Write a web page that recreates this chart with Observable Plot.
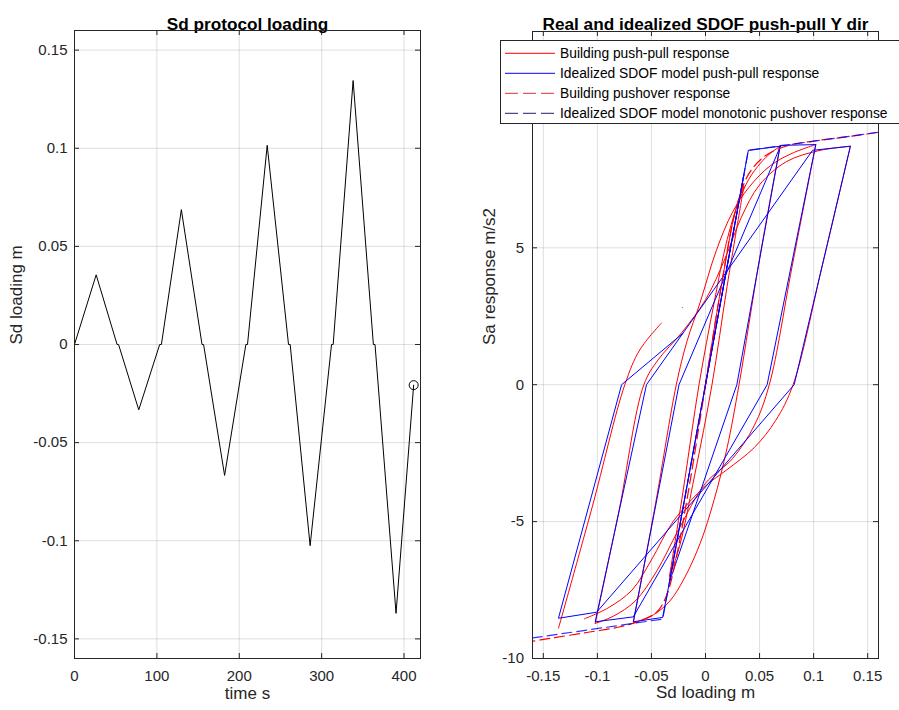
<!DOCTYPE html>
<html>
<head>
<meta charset="utf-8">
<script src="https://cdn.jsdelivr.net/npm/d3@7"></script>
<script src="https://cdn.jsdelivr.net/npm/@observablehq/plot@0.6"></script>
<style>
  body { margin: 0; background: #fff; }
  #wrap { position: relative; width: 899px; height: 710px; overflow: hidden; background: #fff;
          font-family: "Liberation Sans", Arial, sans-serif; }
  .panel { position: absolute; top: 0; }
  #legend { position: absolute; left: 500px; top: 40px; }
</style>
</head>
<body>
<div id="wrap"></div>
<script>
// ---------------- Left panel: Sd protocol loading ----------------
const protoTitle = "Sd protocol loading";
const protoXLabel = "time s";
const protoYLabel = "Sd loading m";
const protoTime = [0, 26.3, 51.7, 53.5, 78, 103.4, 105.5, 129.7, 154.8, 156.7, 182.2, 208, 210,
                   233.9, 259.8, 261.8, 286, 312, 314, 338.2, 362.8, 364.8, 390.3, 411.7];
const protoSd   = [0, 0.0355, 0, 0, -0.0333, 0, 0, 0.0687, 0, 0, -0.0667, 0, 0,
                   0.1015, 0, 0, -0.1025, 0, 0, 0.1345, 0, 0, -0.137, -0.0207];
const protoXTicks = [0, 100, 200, 300, 400];
const protoYTicks = [-0.15, -0.1, -0.05, 0, 0.05, 0.1, 0.15];

// ---------------- Right panel: push-pull ----------------
const ppTitle = "Real and idealized SDOF push-pull Y dir";
const ppXLabel = "Sd loading m";
const ppYLabel = "Sa response m/s2";
const ppXTicks = [-0.15, -0.1, -0.05, 0, 0.05, 0.1, 0.15];
const ppYTicks = [-10, -5, 0, 5, 10];

// Building push-pull response (smooth branches, one per half cycle)
const bldSeg = [0,0,0,0,
  1,1,1,1,1,1,
  2,2,2,2,2,2,2,2,2,2,
  3,3,3,3,3,3,3,3,3,3,
  4,4,4,4,4,4,4,4,4,4,4,
  5,5,5,5,5,5,5,5,5,5,5,
  6,6,6,6,6,6,6,6,6,6,6,6,
  7,7,7,7,7,7,7,7,7,7,7,7,
  8,8,8,8,8,8];
const bldSd = [0, 0.015, 0.028, 0.0355,
  0.0355, 0.02, 0.006, -0.01, -0.024, -0.0333,
  -0.0333, -0.02, -0.006, 0.008, 0.02, 0.03, 0.04, 0.051, 0.06, 0.069,
  0.069, 0.05, 0.031, 0.02, 0.008, -0.005, -0.02, -0.033, -0.048, -0.0668,
  -0.0668, -0.046, -0.027, -0.017, -0.005, 0.01, 0.025, 0.04, 0.06, 0.08, 0.102,
  0.102, 0.08, 0.059, 0.045, 0.025, 0.0, -0.025, -0.045, -0.065, -0.085, -0.102,
  -0.102, -0.08, -0.057, -0.044, -0.022, 0.0, 0.018, 0.033, 0.05, 0.075, 0.105, 0.134,
  0.134, 0.108, 0.081, 0.065, 0.045, 0.02, 0.0, -0.03, -0.05, -0.068, -0.09, -0.112, -0.136,
  -0.136, -0.105, -0.0746, -0.0608, -0.0408, -0.0215];
const bldSa = [0, 3.7, 6.4, 7.25,
  7.25, 3.6, 0, -3.3, -5.9, -7.0,
  -7.0, -3.7, 0, 3.0, 5.3, 6.6, 7.5, 8.1, 8.45, 8.71,
  8.71, 4.6, 0, -2.3, -4.2, -5.8, -7.1, -7.9, -8.4, -8.7,
  -8.7, -4.3, 0, 1.6, 3.0, 4.9, 6.3, 7.2, 8.0, 8.45, 8.77,
  8.77, 4.3, 0, -1.5, -2.7, -3.6, -5.3, -6.8, -7.9, -8.45, -8.72,
  -8.72, -4.6, 0, 0.9, 1.9, 3.1, 4.6, 6.1, 7.3, 8.15, 8.55, 8.71,
  8.71, 4.35, 0, -1.3, -2.3, -3.1, -3.7, -5.0, -6.4, -7.5, -8.15, -8.55, -8.9,
  -8.9, -4.5, 0, 1.27, 2.25, 2.82];

// Idealized SDOF push-pull response (piecewise linear)
const sdofSd = [0, 0.0355, -0.0333, 0.0396, 0.069, 0.029, -0.0333, -0.0396, -0.0668, -0.0245,
                0.0696, 0.102, 0.057, -0.0668, -0.102, -0.0546, 0.099, 0.134, 0.082, -0.1007,
                -0.136, -0.0776, -0.0208];
const sdofSa = [0, 7.67, -7.2, 8.56, 8.71, 0, -7.2, -8.5, -8.66, 0,
                8.74, 8.77, 0, -8.48, -8.66, 0, 8.56, 8.71, 0, -8.31,
                -8.53, 0, 1.88];

// Building pushover (monotonic, both directions)
const bldPoBranch = [0,0,0,0,0,0,0,0,0, 1,1,1,1,1,1,1,1,1,1];
const bldPoSd = [0, 0.015, 0.028, 0.04, 0.055, 0.075, 0.1, 0.13, 0.16,
                 0, -0.015, -0.028, -0.036, -0.045, -0.06, -0.08, -0.11, -0.151, -0.16];
const bldPoSa = [0, 3.7, 6.4, 7.7, 8.35, 8.72, 8.9, 9.05, 9.22,
                 0, -3.7, -6.5, -7.7, -8.3, -8.62, -8.85, -9.05, -9.31, -9.37];

// Idealized SDOF monotonic pushover
const sdofPoBranch = [0, 0, 0, 1, 1, 1];
const sdofPoSd = [0, 0.0396, 0.16, 0, -0.0396, -0.16];
const sdofPoSa = [0, 8.56, 9.22, 0, -8.56, -9.25];

const seriesNames = ["Building push-pull response",
                     "Idealized SDOF model push-pull response",
                     "Building pushover response",
                     "Idealized SDOF model monotonic pushover response"];
const seriesColors = ["#ff0000", "#0000ff", "#e03030", "#1c1c70"];
const seriesDash = [null, null, "13,5", "13,5"];

// ---------------- build tables ----------------
const protoRows = protoTime.map((t, i) => ({t, sd: protoSd[i]}));
const bldRows = bldSd.map((sd, i) => ({sd, sa: bldSa[i], seg: bldSeg[i]}));
const sdofRows = sdofSd.map((sd, i) => ({sd, sa: sdofSa[i]}));
const bldPoRows = bldPoSd.map((sd, i) => ({sd, sa: bldPoSa[i], b: bldPoBranch[i]}));
const sdofPoRows = sdofPoSd.map((sd, i) => ({sd, sa: sdofPoSa[i], b: sdofPoBranch[i]}));

const FONT = "Liberation Sans, Arial, Helvetica, sans-serif";
const fmt = d => String(d);
const AX = "#262626";

function panel(o) {
  const H = 710;
  const iw = o.width - o.ml - o.mr, ih = H - o.mt - o.mb;
  return Plot.plot({
    width: o.width, height: H,
    marginLeft: o.ml, marginRight: o.mr, marginTop: o.mt, marginBottom: o.mb,
    style: {fontFamily: FONT, fontSize: "15px", color: AX, background: "transparent", overflow: "visible"},
    x: {domain: o.xDomain, label: null},
    y: {domain: o.yDomain, label: null},
    marks: [
      Plot.gridX(o.xTicks, {stroke: AX, strokeOpacity: 0.15}),
      Plot.gridY(o.yTicks, {stroke: AX, strokeOpacity: 0.15}),
      ...o.marks,
      Plot.tickX(o.xTicks, {x: d => d, insetTop: ih - 5, stroke: AX}),
      Plot.tickX(o.xTicks, {x: d => d, insetBottom: ih - 5, stroke: AX}),
      Plot.tickY(o.yTicks, {y: d => d, insetRight: iw - 5, stroke: AX}),
      Plot.tickY(o.yTicks, {y: d => d, insetLeft: iw - 5, stroke: AX}),
      Plot.axisX(o.xTicks, {tickSize: 0, tickPadding: 12, tickFormat: fmt, label: null}),
      Plot.axisY(o.yTicks, {tickSize: 0, tickPadding: o.yPad, tickFormat: fmt, label: null}),
      Plot.text([o.xLabel], {text: d => d, frameAnchor: "bottom", dy: o.xLabelDy, fontSize: 17, fill: AX}),
      Plot.text([o.yLabel], {text: d => d, frameAnchor: "left", dx: o.yLabelDx, rotate: -90, fontSize: 17, fill: AX}),
      Plot.text([o.title], {text: d => d, frameAnchor: "top", dy: o.titleDy, fontSize: 17.2, fontWeight: "bold", fill: "#000"}),
      Plot.frame({stroke: AX})
    ]
  });
}

const left = panel({
  width: 450, ml: 74, mr: 30, mt: 30, mb: 52,
  xDomain: [0, 420], yDomain: [-0.16, 0.16],
  xTicks: protoXTicks, yTicks: protoYTicks, yPad: 7,
  xLabel: protoXLabel, yLabel: protoYLabel, title: protoTitle,
  xLabelDy: 40, yLabelDx: -58, titleDy: -12.6,
  marks: [
    Plot.line(protoRows, {x: "t", y: "sd", stroke: "#000", strokeWidth: 1}),
    Plot.dot(protoRows.slice(-1), {x: "t", y: "sd", r: 4.5, stroke: "#000", fill: "none", strokeWidth: 1})
  ]
});

const right = panel({
  width: 449, ml: 82, mr: 21, mt: 31, mb: 52,
  xDomain: [-0.16, 0.16], yDomain: [-10, 12.9],
  xTicks: ppXTicks, yTicks: ppYTicks, yPad: 8.5,
  xLabel: ppXLabel, yLabel: ppYLabel, title: ppTitle,
  xLabelDy: 39, yLabelDx: -43, titleDy: -13.6,
  marks: [
    Plot.line(bldRows, {x: "sd", y: "sa", z: "seg", stroke: seriesColors[0], strokeWidth: 1, curve: "catmull-rom"}),
    Plot.line(sdofRows, {x: "sd", y: "sa", stroke: seriesColors[1], strokeWidth: 1}),
    Plot.line(bldPoRows, {x: "sd", y: "sa", z: "b", stroke: "#ff0000", strokeWidth: 1.2, strokeDasharray: "10,5", curve: "catmull-rom"}),
    Plot.line(sdofPoRows, {x: "sd", y: "sa", z: "b", stroke: "#0000ff", strokeWidth: 1.2, strokeDasharray: "10,5", strokeOpacity: 0.8})
  ]
});

const wrap = document.getElementById("wrap");
left.classList.add("panel"); left.style.left = "0px";
right.classList.add("panel"); right.style.left = "450px";
wrap.appendChild(left);
wrap.appendChild(right);

// Legend (overlays the right axes, box runs past the window edge as in the reference)
const leg = d3.create("svg").attr("id", "legend").attr("width", 399).attr("height", 84)
  .style("font-family", FONT);
leg.append("rect").attr("x", 0.5).attr("y", 0.5).attr("width", 440).attr("height", 83)
  .attr("fill", "#fff").attr("stroke", AX).attr("stroke-width", 1);
seriesNames.forEach((name, i) => {
  const cy = 13.3 + 20 * i;
  leg.append("line").attr("x1", 5).attr("x2", 55).attr("y1", cy).attr("y2", cy)
    .attr("stroke", seriesColors[i]).attr("stroke-width", 1)
    .attr("stroke-dasharray", seriesDash[i]);
  leg.append("text").attr("x", 60).attr("y", cy).attr("dy", "0.35em")
    .attr("font-size", 13.8).attr("fill", "#000").text(name);
});
wrap.appendChild(leg.node());
</script>
</body>
</html>
